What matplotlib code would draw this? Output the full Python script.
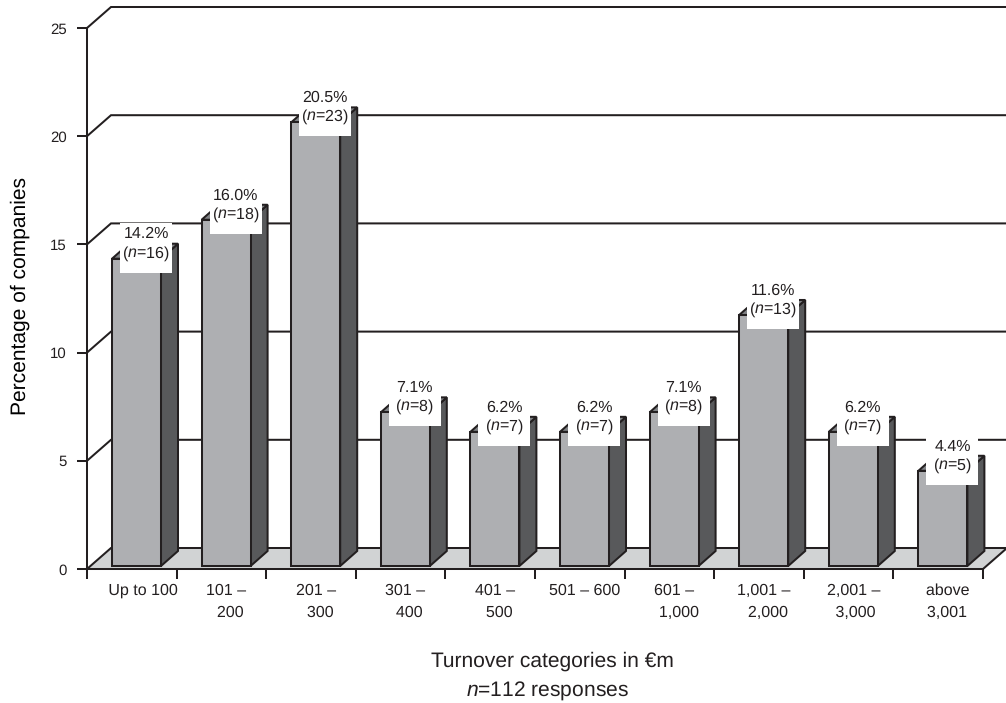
import matplotlib
matplotlib.use("Agg")
import matplotlib.pyplot as plt
from matplotlib.patches import Polygon, Rectangle

config = {
    "font.family": ["Liberation Sans", "DejaVu Sans"],
    "font.size": 11.2,
    "mathtext.fontset": "custom",
    "mathtext.rm": "Liberation Sans",
    "mathtext.it": "Liberation Sans:italic",
    "text.color": "#231f20",
    "text.hinting": "no_hinting",
    "text.hinting_factor": 1,
}
plt.rcParams.update(config)

categories = ["   Up to 100", "101 –\n  200", "201 –\n  300", "301 –\n  400", "401 –\n  500",
              "501 – 600", "601 –\n  1,000", "1,001 –\n  2,000", "2,001 –\n 3,000", "  above\n  3,001"]
percentages = [14.2, 16.0, 20.5, 7.1, 6.2, 6.2, 7.1, 11.6, 6.2, 4.4]
counts = [16, 18, 23, 8, 7, 7, 8, 13, 7, 5]
y_ticks = [0, 5, 10, 15, 20, 25]

INK = "#231f20"
FRONT = "#aeafb2"
SIDE = "#58595b"
TOP = "#808285"
FLOOR = "#d1d3d4"
LW = 1.45

W, H = 1006, 703
fig = plt.figure(figsize=(W / 100, H / 100), dpi=100)
ax = fig.add_axes([87 / W, (H - 569) / H, 896 / W, 541 / H])
ax.set_xlim(0, 10)
ax.set_ylim(0, 25)
ax.patch.set_visible(False)

# pixel sizes converted to data units, the 3d look is all oblique offsets
px = 10 / 896
py = 25 / 541
wall_dx, wall_dy = 24 * px, 21 * py
bar_dx, bar_dy = 17 * px, 15 * py
bar_w = 49 * px
bar_left = 25 * px
bar_base = 3 * py

# back wall grid and floor
ax.add_patch(Polygon([(0, 0), (wall_dx, wall_dy), (10 + wall_dx, wall_dy), (10, 0)],
                     closed=True, fc=FLOOR, ec="none", clip_on=False, zorder=1))
ax.plot([10, 10 + wall_dx], [0, wall_dy], color=INK, lw=LW, clip_on=False, zorder=1.5)
for t in y_ticks:
    ax.plot([0, wall_dx, 10 + wall_dx], [t, t + wall_dy, t + wall_dy],
            color=INK, lw=LW, clip_on=False, zorder=1.5, solid_joinstyle="miter")

# bars
xs = [i + bar_left for i in range(len(percentages))]
ax.bar(xs, percentages, width=bar_w, bottom=bar_base, align="edge",
       color=FRONT, edgecolor=INK, linewidth=LW, zorder=3)
for x, v in zip(xs, percentages):
    y1 = v + bar_base
    ax.add_patch(Polygon([(x + bar_w, bar_base), (x + bar_w + bar_dx, bar_base + bar_dy),
                          (x + bar_w + bar_dx, y1 + bar_dy), (x + bar_w, y1)],
                         closed=True, fc=SIDE, ec=INK, lw=LW, zorder=2.8, clip_on=False))
    ax.add_patch(Polygon([(x, y1), (x + bar_dx, y1 + bar_dy),
                          (x + bar_w + bar_dx, y1 + bar_dy), (x + bar_w, y1)],
                         closed=True, fc=TOP, ec=INK, lw=LW, zorder=2.8, clip_on=False))

# value labels sit on white boxes that hide the bar tops
box_w, box_h = 52 * px, 50 * py
for x, v, n in zip(xs, percentages, counts):
    cx = x + bar_w / 2 + 9.5 * px
    y0 = v + bar_base - 14 * py
    ax.add_patch(Rectangle((cx - box_w / 2, y0), box_w, box_h, fc="white", ec="none", zorder=4))
    ax.text(cx, y0 + 28 * py, f"{v:.1f}%\n($\\mathit{{n}}$={n})", ha="center", va="center",
            linespacing=1.15, zorder=5)

for s in ["top", "right"]:
    ax.spines[s].set_visible(False)
for s in ["left", "bottom"]:
    ax.spines[s].set_linewidth(LW)
    ax.spines[s].set_color(INK)
    ax.spines[s].set_zorder(6)

ax.set_yticks(y_ticks)
ax.set_xticks(range(11))
ax.set_xticklabels([])
ax.tick_params(axis="both", which="major", length=7.5, width=LW, color=INK, labelcolor=INK)
ax.tick_params(axis="y", pad=7, labelsize=10.6)

ax.set_xticks([x + bar_w / 2 for x in xs], minor=True)
ax.set_xticklabels(categories, minor=True, linespacing=1.67)
ax.tick_params(axis="x", which="minor", length=0, pad=10, labelcolor=INK)

ax.set_ylabel("Percentage of companies", fontsize=15.1)
ax.yaxis.set_label_coords(-57 / 896, (569 - 296) / 541)
fig.text(552 / W, 1 - 667 / H, "Turnover categories in €m", ha="center", va="baseline", fontsize=15.1)
fig.text(547 / W, 1 - 697 / H, "$\\mathit{n}$=112 responses", ha="center", va="baseline", fontsize=15.1)

fig.savefig("out.png", dpi=100)
